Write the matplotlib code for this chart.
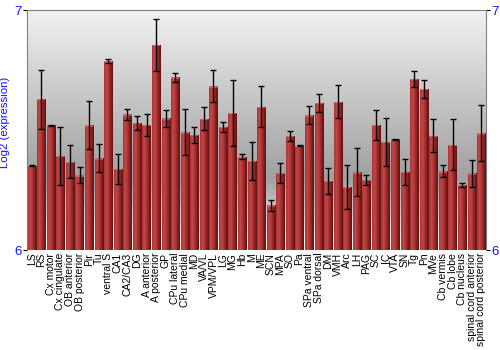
import numpy as np
import matplotlib
matplotlib.use("Agg")
import matplotlib.pyplot as plt
from matplotlib.colors import LinearSegmentedColormap

# ── data ──────────────────────────────────────────────
regions = [
    "LS", "RS", "Cx motor", "Cx cingulate", "OB anterior", "OB posterior",
    "Pir", "Tu", "ventral S", "CA1", "CA2/CA3", "DG", "A anterior",
    "A posterior", "GP", "CPu lateral", "CPu medial", "MD", "VA/VL",
    "VPM/VPL", "LG", "MG", "Hb", "M", "ME", "SCN", "MPA", "SO", "Pa",
    "SPa ventral", "SPa dorsal", "DM", "VMH", "Arc", "LH", "PAG", "SC",
    "IC", "VTA", "SN", "Tg", "Pn", "MVe", "Cb vermis", "Cb lobe",
    "Cb nucleus", "spinal cord anterior", "spinal cord posterior",
]
means = [
    6.351, 6.629, 6.519, 6.392, 6.368, 6.311,
    6.519, 6.383, 6.786, 6.338, 6.565, 6.529, 6.521,
    6.855, 6.549, 6.719, 6.490, 6.479, 6.547,
    6.683, 6.513, 6.572, 6.388, 6.371, 6.597, 6.186, 6.321, 6.476, 6.435,
    6.561, 6.614, 6.288, 6.617, 6.263, 6.324, 6.292, 6.521,
    6.450, 6.461, 6.325, 6.714, 6.671, 6.476, 6.328, 6.439,
    6.272, 6.319, 6.486,
]
errs = [
    0.002, 0.123, 0.002, 0.122, 0.070, 0.033,
    0.100, 0.060, 0.008, 0.064, 0.024, 0.030, 0.045,
    0.108, 0.035, 0.018, 0.096, 0.035, 0.049,
    0.066, 0.020, 0.138, 0.010, 0.079, 0.086, 0.022, 0.042, 0.020, 0.003,
    0.038, 0.037, 0.054, 0.069, 0.093, 0.100, 0.021, 0.063,
    0.099, 0.002, 0.056, 0.033, 0.039, 0.069, 0.025, 0.107,
    0.009, 0.056, 0.117,
]

BLUE = "#1010ff"
FONT = ["Liberation Sans", "DejaVu Sans"]

fig = plt.figure(figsize=(5, 3.5), dpi=100)
ax = fig.add_axes([0.054, 0.2857, 0.918, 0.6857])

x = np.arange(len(regions))

# 배경 그라데이션 (위: 밝음 → 아래: 어두움 → 흰색)
bg = np.linspace(0, 1, 256).reshape(-1, 1)
bg_cmap = LinearSegmentedColormap.from_list(
    "bg", [(0.0, "#ffffff"), (0.3, "#a0a0a0"), (0.75, "#d4d4d4"), (1.0, "#f2f2f2")])
ax.imshow(bg, cmap=bg_cmap, aspect="auto", extent=(0, 1, 0, 1),
          transform=ax.transAxes, origin="lower", zorder=0)

# 막대 + 가로 그라데이션
bar_cmap = LinearSegmentedColormap.from_list(
    "bar", ["#a83232", "#c24848", "#b03636", "#8a2020", "#5e1010"])
grad = np.linspace(0, 1, 64).reshape(1, -1)
bars = ax.bar(x, np.array(means) - 6, bottom=6, width=0.86,
              color="#a83232", edgecolor="none", zorder=2)
for b in bars:
    x0, w = b.get_x(), b.get_width()
    y0, h = b.get_y(), b.get_height()
    im = ax.imshow(grad, cmap=bar_cmap, aspect="auto",
                   extent=(x0, x0 + w, y0, y0 + h), zorder=3)
    im.set_clip_path(b)
    # 윗면 하이라이트
    ax.fill_between([x0, x0 + w], y0 + h - 0.006, y0 + h,
                    color="#e08080", alpha=0.6, lw=0, zorder=4)

ax.errorbar(x, means, yerr=errs, fmt="none", ecolor="black",
            elinewidth=1, capsize=2, capthick=1, zorder=5)

ax.set_xlim(-0.5, len(regions) - 0.5)
ax.set_ylim(6, 7)

ax.set_xticks(x)
ax.set_xticklabels(regions, rotation=90, fontsize=7.5, family=FONT)
ax.tick_params(axis="x", length=0, pad=2)

ax.set_yticks([6, 7])
ax.set_yticklabels(["6", "7"], fontsize=9.5, color=BLUE, family=FONT)
ax.tick_params(axis="y", length=3, pad=1, left=True, right=True,
               labelleft=True, labelright=True, direction="out")
ax.set_ylabel("Log2 (expression)", color=BLUE, fontsize=8.2, family=FONT)
ax.yaxis.set_label_coords(-0.038, 0.53)

for s in ax.spines.values():
    s.set_color("#808080")
ax.spines["bottom"].set_visible(False)

fig.savefig("out.png", dpi=100)
